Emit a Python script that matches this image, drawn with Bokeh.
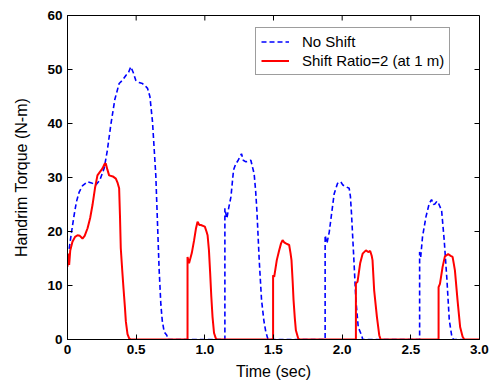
import math
from bokeh.plotting import figure
from bokeh.models import Range1d, LinearAxis, FixedTicker, Legend, LegendItem
from bokeh.embed import file_html
from bokeh.resources import INLINE

# ---- data ----
t_no_shift = [0.012, 0.03, 0.048, 0.065, 0.085, 0.11, 0.146, 0.175, 0.206, 0.235,
              0.267, 0.29, 0.315, 0.345, 0.376, 0.40, 0.425, 0.445, 0.461, 0.478,
              0.497, 0.52, 0.546, 0.565, 0.583, 0.60, 0.619, 0.643, 0.655, 0.667,
              0.68, 0.69, 0.704, 0.723, 0.73,
              1.146, 1.146, 1.16, 1.175, 1.19, 1.209, 1.225, 1.243, 1.267, 1.28,
              1.299, 1.335, 1.359, 1.37, 1.379, 1.396, 1.413, 1.43, 1.444, 1.46,
              1.876, 1.876, 1.889, 1.906, 1.923, 1.942, 1.966, 1.99, 2.005, 2.027,
              2.051, 2.06, 2.068, 2.083, 2.1, 2.117, 2.141, 2.15,
              2.564, 2.564, 2.572, 2.585, 2.61, 2.634, 2.651, 2.665, 2.675, 2.69,
              2.7, 2.724, 2.743, 2.763, 2.78, 2.797, 2.81, 2.88]
torque_no_shift = [16.8, 20.0, 23.0, 25.5, 27.3, 28.5, 29.2, 29.0, 28.6, 29.5,
                   31.7, 35.0, 39.7, 44.5, 47.4, 48.0, 48.9, 49.5, 50.5, 49.5,
                   48.0, 47.6, 47.4, 47.0, 46.5, 45.0, 40.3, 30.4, 21.8, 13.1,
                   6.4, 3.5, 1.4, 0.8, 0.0,
                   0.0, 24.3, 22.4, 24.5, 26.4, 31.4, 32.5, 33.2, 34.4, 33.2,
                   32.9, 33.2, 30.7, 27.5, 23.9, 14.7, 7.3, 3.5, 1.4, 0.0,
                   0.0, 19.3, 17.8, 19.9, 23.3, 27.0, 28.9, 29.2, 28.6, 28.3,
                   28.0, 26.5, 23.3, 15.9, 7.3, 2.3, 0.8, 0.0,
                   0.0, 16.2, 15.3, 19.0, 22.7, 25.2, 25.9, 25.0, 25.1, 25.6,
                   25.3, 23.9, 18.4, 11.0, 3.6, 0.8, 0.0, 0.0]

t_shift = [0.0, 0.005, 0.012, 0.02, 0.036, 0.055, 0.073, 0.09, 0.109, 0.125,
           0.146, 0.165, 0.182, 0.2, 0.218, 0.235, 0.255, 0.27, 0.279, 0.29,
           0.303, 0.33, 0.352, 0.365, 0.376, 0.382, 0.388, 0.398, 0.408, 0.418,
           0.425, 0.437, 0.449, 0.46,
           0.874, 0.874, 0.885, 0.905, 0.922, 0.935, 0.947, 0.96, 0.971, 1.0,
           1.012, 1.02, 1.03, 1.039, 1.047, 1.056, 1.067, 1.08, 1.09,
           1.497, 1.497, 1.505, 1.524, 1.541, 1.555, 1.566, 1.578, 1.59, 1.614,
           1.624, 1.631, 1.64, 1.646, 1.655, 1.663, 1.68, 1.69,
           2.1, 2.1, 2.112, 2.131, 2.149, 2.173, 2.19, 2.204, 2.215, 2.221,
           2.233, 2.253, 2.27, 2.28,
           2.702, 2.702, 2.712, 2.731, 2.748, 2.772, 2.79, 2.804, 2.813, 2.821,
           2.84, 2.859, 2.877, 2.89, 3.0]
torque_shift = [13.5, 15.9, 13.8, 16.5, 18.1, 19.0, 19.3, 19.2, 18.7, 19.2,
                20.6, 22.5, 24.9, 28.0, 30.4, 31.0, 31.7, 32.5, 32.6, 31.5,
                30.4, 30.2, 29.8, 29.0, 28.0, 23.0, 16.9, 13.0, 9.4, 6.0,
                3.3, 1.0, 0.2, 0.0,
                0.0, 15.3, 14.1, 16.0, 18.4, 20.5, 21.8, 21.2, 21.2, 20.9,
                20.0, 19.3, 16.5, 12.2, 8.0, 4.2, 1.2, 0.2, 0.0,
                0.0, 11.9, 11.6, 14.7, 16.5, 17.8, 18.4, 18.0, 17.8, 17.5,
                16.0, 14.7, 10.5, 7.3, 4.0, 1.7, 0.2, 0.0,
                0.0, 10.4, 10.7, 14.1, 15.9, 16.5, 16.2, 16.4, 15.5, 14.7,
                9.1, 4.2, 0.8, 0.0,
                0.0, 9.7, 10.3, 13.4, 15.4, 15.8, 15.5, 15.3, 14.0, 12.8,
                7.3, 2.3, 0.5, 0.0, 0.0]

x_ticks = [0, 0.5, 1.0, 1.5, 2.0, 2.5, 3.0]
x_tick_labels = ["0", "0.5", "1.0", "1.5", "2.0", "2.5", "3.0"]
y_ticks = [0, 10, 20, 30, 40, 50, 60]
y_tick_labels = ["0", "10", "20", "30", "40", "50", "60"]

series_names = ["No Shift", "Shift Ratio=2 (at 1 m)"]
x_label = "Time (sec)"
y_label = "Handrim Torque (N-m)"

X_MIN, X_MAX = 0, 3
Y_MIN, Y_MAX = 0, 60
FONT = "Liberation Sans"

p = figure(width=493, height=385, output_backend="svg", toolbar_location=None,
           x_range=Range1d(X_MIN, X_MAX), y_range=Range1d(Y_MIN, Y_MAX),
           x_axis_location=None, y_axis_location=None,
           min_border_left=67, min_border_right=14, min_border_top=15,
           min_border_bottom=46)
p.background_fill_color = "white"
p.border_fill_color = "white"
p.outline_line_color = "black"
p.outline_line_width = 1
p.xgrid.visible = False
p.ygrid.visible = False


def make_axis(ticks, labels, title):
    ax = LinearAxis(ticker=FixedTicker(ticks=ticks))
    ax.major_label_overrides = {t: l for t, l in zip(ticks, labels)}
    ax.major_tick_in = 5
    ax.major_tick_out = 0
    ax.minor_tick_in = 0
    ax.minor_tick_out = 0
    ax.axis_line_color = "black"
    ax.major_tick_line_color = "black"
    ax.major_label_text_font = FONT
    ax.major_label_text_font_style = "bold"
    ax.major_label_text_color = "black"
    ax.major_label_text_font_size = "13.5px"
    ax.major_label_standoff = 5
    ax.axis_label = title
    ax.axis_label_text_font = FONT
    ax.axis_label_text_font_size = "16px"
    ax.axis_label_text_font_style = "normal"
    ax.axis_label_text_color = "black"
    return ax


bottom = make_axis(x_ticks, x_tick_labels, x_label)
bottom.axis_label_standoff = 6
left = make_axis(y_ticks, y_tick_labels, y_label)
left.axis_label_standoff = 14
p.add_layout(bottom, "below")
p.add_layout(left, "left")

# inward tick marks on the top and right edges of the box
p.ray(x=x_ticks, y=[Y_MAX] * len(x_ticks), length=5, length_units="screen",
      angle=-math.pi / 2, line_color="black", line_width=1)
p.ray(x=[X_MAX] * len(y_ticks), y=y_ticks, length=5, length_units="screen",
      angle=math.pi, line_color="black", line_width=1)

r_blue = p.line(t_no_shift, torque_no_shift, line_color="#0000ff", line_width=1.6,
                line_dash="5 3")
r_red = p.line(t_shift, torque_shift, line_color="#ff0000", line_width=2)

legend = Legend(items=[LegendItem(label=series_names[0], renderers=[r_blue]),
                       LegendItem(label=series_names[1], renderers=[r_red])],
                location=(188, 264), margin=0, padding=5, spacing=2,
                label_height=15, glyph_height=15, glyph_width=28,
                label_standoff=13,
                label_text_font=FONT, label_text_font_size="15px",
                label_text_color="black",
                border_line_color="#3c3c3c", border_line_width=1,
                background_fill_color="white", background_fill_alpha=1)
p.add_layout(legend, "center")

open("out.html", "w").write(file_html(p, INLINE))
